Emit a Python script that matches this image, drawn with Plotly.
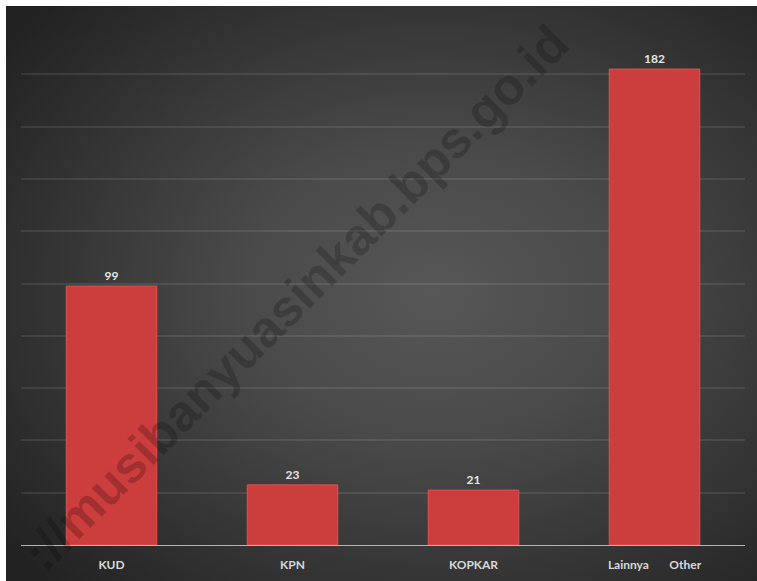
import base64
import plotly.graph_objects as go

# Jumlah koperasi menurut jenis
categories = ["KUD", "KPN", "KOPKAR", "Lainnya\u00a0\u00a0\u00a0\u00a0\u00a0\u00a0\u00a0Other"]
values = [99, 23, 21, 182]

W, H = 757, 581
M_L, M_R, M_T, M_B = 21, 12, 22, 36
plot_w = W - M_L - M_R
plot_h = H - M_T - M_B

# Radial-gradient backdrop for the chart area (dark edges, lighter centre)
bg_svg = f"""<svg xmlns='http://www.w3.org/2000/svg' width='751' height='575' viewBox='0 0 751 575' preserveAspectRatio='none'>
<defs><radialGradient id='g' cx='57%' cy='50%' r='72%'>
<stop offset='0%' stop-color='#575757'/>
<stop offset='35%' stop-color='#4a4a4a'/>
<stop offset='100%' stop-color='#222222'/>
</radialGradient></defs>
<rect width='751' height='575' fill='url(#g)'/></svg>"""
bg_uri = "data:image/svg+xml;base64," + base64.b64encode(bg_svg.encode()).decode()

def px_to_paper_x(px):
    return (px - M_L) / plot_w

def px_to_paper_y(py):
    return (H - M_B - py) / plot_h

fig = go.Figure(
    go.Bar(
        x=categories,
        y=values,
        width=0.5,
        marker=dict(color="#cc3d3d", line=dict(color="#e05252", width=1)),
        text=[str(v) for v in values],
        textposition="outside",
        textfont=dict(family="Lato", size=12, color="#e6e6e6", weight="bold"),
        cliponaxis=False,
        hoverinfo="skip",
    )
)

fig.update_layout(
    width=W,
    height=H,
    margin=dict(l=M_L, r=M_R, t=M_T, b=M_B, autoexpand=False),
    paper_bgcolor="white",
    plot_bgcolor="rgba(0,0,0,0)",
    showlegend=False,
    bargap=0.5,
    images=[
        dict(
            source=bg_uri,
            xref="paper",
            yref="paper",
            x=px_to_paper_x(6),
            y=px_to_paper_y(6),
            sizex=(W - 6) / plot_w,
            sizey=(H - 6) / plot_h,
            xanchor="left",
            yanchor="top",
            sizing="stretch",
            layer="below",
        )
    ],
    xaxis=dict(
        showgrid=False,
        showline=True,
        linecolor="#b4b4b4",
        linewidth=1,
        ticks="",
        ticklabelstandoff=9,
        automargin=False,
        tickfont=dict(family="Lato", size=12, color="#d9d9d9", weight="bold"),
        fixedrange=True,
    ),
    yaxis=dict(
        range=[0, 200],
        dtick=20,
        showticklabels=False,
        showgrid=True,
        gridcolor="rgba(255,255,255,0.09)",
        gridwidth=1.5,
        zeroline=False,
        automargin=False,
        fixedrange=True,
    ),
    annotations=[
        dict(
            text="://musibanyuasinkab.bps.go.id",
            xref="paper",
            yref="paper",
            x=px_to_paper_x(295),
            y=px_to_paper_y(298),
            showarrow=False,
            textangle=-45,
            font=dict(family="Liberation Sans", size=51, color="rgba(0,0,0,0.2)", weight="bold"),
        )
    ],
)

fig.write_html("out.html", config={"displayModeBar": False})
